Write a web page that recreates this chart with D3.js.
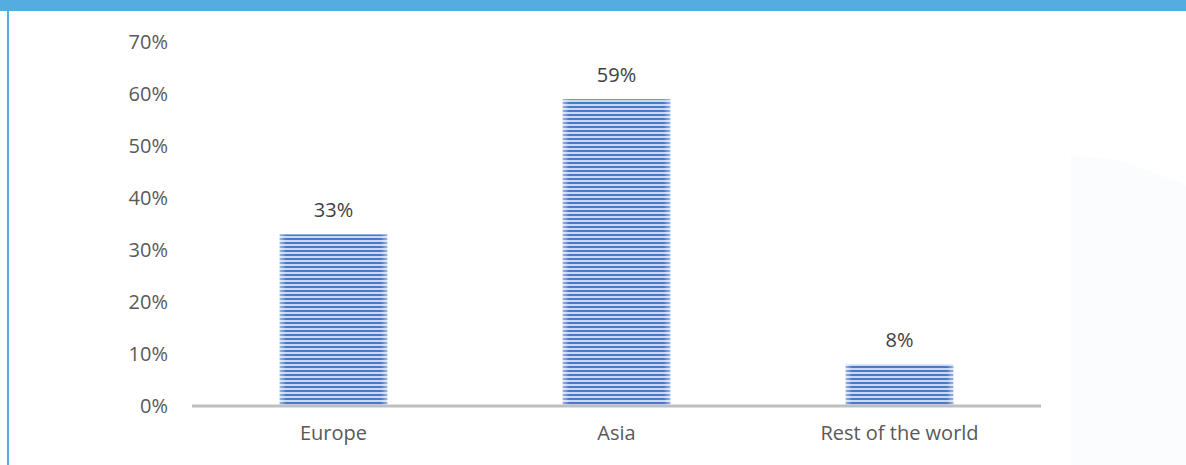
<!DOCTYPE html>
<html>
<head>
<meta charset="utf-8">
<script src="https://cdn.jsdelivr.net/npm/d3@7"></script>
<style>
  body { margin: 0; background: #fff; }
  svg { display: block; }
  .tick text { font-family: "Open Sans", sans-serif; }
</style>
</head>
<body>
<div id="chart"></div>
<script>
// Share by region
const regions = ["Europe", "Asia", "Rest of the world"];
const shares = [0.33, 0.59, 0.08];
const yTicks = [0, 0.1, 0.2, 0.3, 0.4, 0.5, 0.6, 0.7];

const W = 1186, H = 465;
const margin = {top: 42, right: 145, bottom: 59, left: 192};
const width = W - margin.left - margin.right;
const height = H - margin.top - margin.bottom;

const svg = d3.select("#chart").append("svg")
    .attr("width", W)
    .attr("height", H);

// striped fill for the bars
const defs = svg.append("defs");
const pat = defs.append("pattern")
    .attr("id", "stripes")
    .attr("patternUnits", "userSpaceOnUse")
    .attr("width", 8)
    .attr("height", 4);
pat.append("rect").attr("width", 8).attr("height", 4).attr("fill", "#cbd8f1");
pat.append("rect").attr("width", 8).attr("height", 2).attr("fill", "#4a78cc");

const edge = defs.append("linearGradient").attr("id", "edgeFade");
edge.append("stop").attr("offset", "0%").attr("stop-color", "#fff").attr("stop-opacity", 0.45);
edge.append("stop").attr("offset", "6%").attr("stop-color", "#fff").attr("stop-opacity", 0);
edge.append("stop").attr("offset", "94%").attr("stop-color", "#fff").attr("stop-opacity", 0);
edge.append("stop").attr("offset", "100%").attr("stop-color", "#fff").attr("stop-opacity", 0.45);

// faint watermark on the right
svg.append("path")
    .attr("d", "M1071,155 L1120,160 L1186,185 L1186,465 L1071,465 Z")
    .attr("fill", "#fafcfe");

// page frame: top band and left rule
svg.append("rect").attr("x", 0).attr("y", 0).attr("width", W).attr("height", 11).attr("fill", "#55ace0");
svg.append("rect").attr("x", 7).attr("y", 0).attr("width", 2).attr("height", H).attr("fill", "#55ace0");

const g = svg.append("g")
    .attr("transform", `translate(${margin.left},${margin.top})`);

const x = d3.scaleBand()
    .domain(regions)
    .range([0, width])
    .paddingInner(0.62)
    .paddingOuter(0.31);

const y = d3.scaleLinear()
    .domain([0, 0.7])
    .range([height, 0]);

// y axis labels only
const yAxis = d3.axisLeft(y)
    .tickValues(yTicks)
    .tickFormat(d3.format(".0%"))
    .tickSize(0)
    .tickPadding(24);

g.append("g")
    .attr("class", "y-axis")
    .call(yAxis)
    .call(s => s.select(".domain").remove())
    .selectAll("text")
    .attr("fill", "#595959")
    .style("font-size", "20px");

// bars
const data = regions.map((r, i) => ({region: r, value: shares[i]}));

g.selectAll(".bar")
    .data(data)
    .join("rect")
    .attr("class", "bar")
    .attr("x", d => x(d.region))
    .attr("y", d => y(d.value))
    .attr("width", x.bandwidth())
    .attr("height", d => height - y(d.value))
    .attr("fill", "url(#stripes)");

g.selectAll(".bar-edge")
    .data(data)
    .join("rect")
    .attr("class", "bar-edge")
    .attr("x", d => x(d.region))
    .attr("y", d => y(d.value))
    .attr("width", x.bandwidth())
    .attr("height", d => height - y(d.value))
    .attr("fill", "url(#edgeFade)");

// value labels
g.selectAll(".val")
    .data(data)
    .join("text")
    .attr("class", "val")
    .attr("x", d => x(d.region) + x.bandwidth() / 2)
    .attr("y", d => y(d.value) - 17)
    .attr("text-anchor", "middle")
    .attr("fill", "#404040")
    .style("font-family", "'Open Sans', sans-serif")
    .style("font-size", "20px")
    .text(d => d3.format(".0%")(d.value));

// x axis
const xAxis = d3.axisBottom(x).tickSize(0).tickPadding(20);
g.append("g")
    .attr("class", "x-axis")
    .attr("transform", `translate(0,${height})`)
    .call(xAxis)
    .call(s => s.select(".domain").remove())
    .selectAll("text")
    .attr("fill", "#595959")
    .style("font-size", "20px");

g.append("line")
    .attr("x1", 0).attr("x2", width)
    .attr("y1", height).attr("y2", height)
    .attr("stroke", "#bfbfbf")
    .attr("stroke-width", 3);
</script>
</body>
</html>
